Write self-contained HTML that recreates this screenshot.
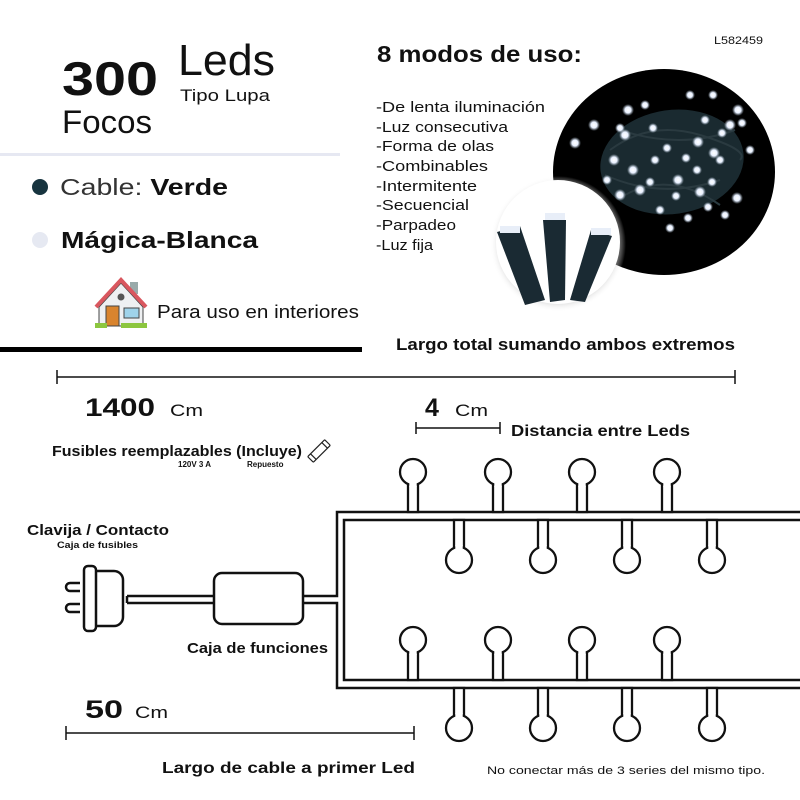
<!DOCTYPE html>
<html><head><meta charset="utf-8"><style>
html,body{margin:0;padding:0;background:#fff}
svg{display:block}
text{font-family:"Liberation Sans",sans-serif;fill:#111}
</style></head><body>
<svg width="800" height="800" viewBox="0 0 800 800" xmlns="http://www.w3.org/2000/svg">
<defs>
<radialGradient id="led"><stop offset="0" stop-color="#fff"/><stop offset="0.5" stop-color="#e8f0ff"/><stop offset="1" stop-color="#9ab" stop-opacity="0"/></radialGradient>
<radialGradient id="sh"><stop offset="0.8" stop-color="#bbb"/><stop offset="1" stop-color="#fff" stop-opacity="0"/></radialGradient>
</defs>
<!-- top left -->
<text x="62" y="95" font-size="47" font-weight="bold" textLength="96" lengthAdjust="spacingAndGlyphs">300</text>
<text x="178" y="75" font-size="44" textLength="97" lengthAdjust="spacingAndGlyphs">Leds</text>
<text x="180" y="101" font-size="17" textLength="90" lengthAdjust="spacingAndGlyphs">Tipo Lupa</text>
<text x="62" y="133" font-size="32" textLength="90" lengthAdjust="spacingAndGlyphs">Focos</text>
<rect x="0" y="153" width="340" height="3" fill="#e6e8f2"/>
<circle cx="40" cy="187" r="8" fill="#17343f"/>
<text x="60" y="195" font-size="23" textLength="168" lengthAdjust="spacingAndGlyphs"><tspan fill="#333">Cable: </tspan><tspan font-weight="bold">Verde</tspan></text>
<circle cx="40" cy="240" r="8" fill="#e6e9f2"/>
<text x="61" y="248" font-size="23" font-weight="bold" textLength="197" lengthAdjust="spacingAndGlyphs">Mágica-Blanca</text>
<!-- house -->
<g>
<rect x="130" y="282" width="8" height="12" fill="#9aa"/>
<polygon points="99,307 121,283 143,307 143,326 99,326" fill="#eef0f2" stroke="#444" stroke-width="1"/>
<polyline points="96,307 121,280 146,307" fill="none" stroke="#d9575f" stroke-width="4"/>
<circle cx="121" cy="297" r="3.5" fill="#555"/>
<rect x="106" y="306" width="13" height="20" fill="#d9842e" stroke="#444" stroke-width="1"/>
<rect x="124" y="308" width="15" height="10" fill="#9fd3ea" stroke="#444" stroke-width="1"/>
<rect x="95" y="323" width="12" height="5" fill="#8cc63f"/>
<rect x="121" y="323" width="26" height="5" fill="#8cc63f"/>
</g>
<text x="157" y="318" font-size="18" fill="#222" textLength="202" lengthAdjust="spacingAndGlyphs">Para uso en interiores</text>
<rect x="0" y="347" width="362" height="5" fill="#000"/>
<!-- top right -->
<text x="714" y="44" font-size="11" textLength="49" lengthAdjust="spacingAndGlyphs">L582459</text>
<text x="377" y="62" font-size="23" font-weight="bold" textLength="205" lengthAdjust="spacingAndGlyphs">8 modos de uso:</text>
<g font-size="15" fill="#222">
<text x="376" y="112" textLength="169" lengthAdjust="spacingAndGlyphs">-De lenta iluminación</text>
<text x="376" y="132" textLength="132" lengthAdjust="spacingAndGlyphs">-Luz consecutiva</text>
<text x="376" y="151" textLength="118" lengthAdjust="spacingAndGlyphs">-Forma de olas</text>
<text x="376" y="171" textLength="112" lengthAdjust="spacingAndGlyphs">-Combinables</text>
<text x="376" y="191" textLength="101" lengthAdjust="spacingAndGlyphs">-Intermitente</text>
<text x="376" y="210" textLength="93" lengthAdjust="spacingAndGlyphs">-Secuencial</text>
<text x="376" y="230" textLength="80" lengthAdjust="spacingAndGlyphs">-Parpadeo</text>
<text x="376" y="250" textLength="57" lengthAdjust="spacingAndGlyphs">-Luz fija</text>
</g>
<ellipse cx="664" cy="172" rx="111" ry="103" fill="#000"/>
<ellipse cx="672" cy="162" rx="72" ry="52" fill="#1a2a30" transform="rotate(-8 672 162)"/>
<g stroke="#2a3a40" stroke-width="2" fill="none">
<path d="M610 150 Q650 120 700 135 T740 160"/><path d="M605 175 Q660 200 720 180"/><path d="M620 130 Q680 150 735 130"/><path d="M625 195 Q670 170 720 205"/>
</g>
<g fill="url(#led)">
<circle cx="628" cy="110" r="6"/><circle cx="645" cy="105" r="5"/><circle cx="690" cy="95" r="5"/><circle cx="713" cy="95" r="5"/><circle cx="738" cy="110" r="6"/>
<circle cx="594" cy="125" r="6"/><circle cx="620" cy="128" r="5"/><circle cx="653" cy="128" r="5"/><circle cx="705" cy="120" r="5"/><circle cx="730" cy="125" r="6"/>
<circle cx="575" cy="143" r="6"/><circle cx="625" cy="135" r="6"/><circle cx="667" cy="148" r="5"/><circle cx="698" cy="142" r="6"/><circle cx="722" cy="133" r="5"/><circle cx="742" cy="123" r="5"/>
<circle cx="614" cy="160" r="6"/><circle cx="655" cy="160" r="5"/><circle cx="686" cy="158" r="5"/><circle cx="714" cy="153" r="6"/><circle cx="720" cy="160" r="5"/>
<circle cx="607" cy="180" r="5"/><circle cx="633" cy="170" r="6"/><circle cx="650" cy="182" r="5"/><circle cx="678" cy="180" r="6"/><circle cx="697" cy="170" r="5"/><circle cx="712" cy="182" r="5"/>
<circle cx="620" cy="195" r="6"/><circle cx="640" cy="190" r="6"/><circle cx="676" cy="196" r="5"/><circle cx="700" cy="192" r="6"/><circle cx="737" cy="198" r="6"/>
<circle cx="660" cy="210" r="5"/><circle cx="688" cy="218" r="5"/><circle cx="708" cy="207" r="5"/><circle cx="725" cy="215" r="5"/><circle cx="670" cy="228" r="5"/>
<circle cx="585" cy="205" r="5"/><circle cx="606" cy="220" r="5"/><circle cx="750" cy="150" r="5"/>
</g>
<circle cx="558" cy="244" r="68" fill="url(#sh)"/>
<circle cx="558" cy="242" r="62" fill="#fff"/>
<g fill="#1a2a33">
<polygon points="497,232 520,226 545,300 525,305"/>
<polygon points="543,220 566,220 565,300 550,302"/>
<polygon points="591,230 612,236 585,302 570,300"/>
</g>
<g fill="#e8eef8"><rect x="500" y="226" width="20" height="7"/><rect x="545" y="213" width="20" height="7"/><rect x="591" y="228" width="20" height="7"/></g>
<text x="396" y="350" font-size="17" font-weight="bold" textLength="339" lengthAdjust="spacingAndGlyphs">Largo total sumando ambos extremos</text>
<!-- dimension lines -->
<g stroke="#111" stroke-width="1.5">
<line x1="57" y1="377" x2="735" y2="377"/><line x1="57" y1="370" x2="57" y2="384"/><line x1="735" y1="370" x2="735" y2="384"/>
<line x1="416" y1="428" x2="500" y2="428"/><line x1="416" y1="422" x2="416" y2="434"/><line x1="500" y1="422" x2="500" y2="434"/>
<line x1="66" y1="733" x2="414" y2="733"/><line x1="66" y1="726" x2="66" y2="740"/><line x1="414" y1="726" x2="414" y2="740"/>
</g>
<text x="85" y="416" font-size="25" font-weight="bold" textLength="70" lengthAdjust="spacingAndGlyphs">1400</text>
<text x="170" y="416" font-size="17" textLength="33" lengthAdjust="spacingAndGlyphs">Cm</text>
<text x="425" y="416" font-size="25" font-weight="bold">4</text>
<text x="455" y="416" font-size="17" textLength="33" lengthAdjust="spacingAndGlyphs">Cm</text>
<text x="511" y="436" font-size="16" font-weight="bold" textLength="179" lengthAdjust="spacingAndGlyphs">Distancia entre Leds</text>
<text x="52" y="456" font-size="15" font-weight="bold" textLength="250" lengthAdjust="spacingAndGlyphs">Fusibles reemplazables (Incluye)</text>
<text x="178" y="467" font-size="8" font-weight="bold">120V 3 A</text>
<text x="247" y="467" font-size="8" font-weight="bold">Repuesto</text>
<g transform="rotate(-45 319 451)" fill="none" stroke="#222" stroke-width="1.2"><rect x="307" y="447" width="24" height="8" rx="1"/><line x1="311" y1="447" x2="311" y2="455"/><line x1="327" y1="447" x2="327" y2="455"/></g>
<text x="27" y="535" font-size="15" font-weight="bold" textLength="142" lengthAdjust="spacingAndGlyphs">Clavija / Contacto</text>
<text x="57" y="548" font-size="9" font-weight="bold" textLength="81" lengthAdjust="spacingAndGlyphs">Caja de fusibles</text>
<text x="187" y="653" font-size="15" font-weight="bold" textLength="141" lengthAdjust="spacingAndGlyphs">Caja de funciones</text>
<text x="85" y="718" font-size="25" font-weight="bold" textLength="38" lengthAdjust="spacingAndGlyphs">50</text>
<text x="135" y="718" font-size="17" textLength="33" lengthAdjust="spacingAndGlyphs">Cm</text>
<text x="162" y="773" font-size="16" font-weight="bold" textLength="253" lengthAdjust="spacingAndGlyphs">Largo de cable a primer Led</text>
<text x="487" y="774" font-size="11" textLength="278" lengthAdjust="spacingAndGlyphs">No conectar más de 3 series del mismo tipo.</text>
<!-- plug -->
<g fill="none" stroke="#111" stroke-width="2.5">
<path d="M80 583 h-10 a4 4 0 0 0 0 8 h10"/>
<path d="M80 604 h-10 a4 4 0 0 0 0 8 h10"/>
<rect x="84" y="566" width="12" height="65" rx="4"/>
<path d="M96 571 h18 a9 9 0 0 1 9 9 v37 a9 9 0 0 1 -9 9 h-18"/>
<path d="M127 596 H214 M127 603 H214 M127 596 V603"/>
<rect x="214" y="573" width="89" height="51" rx="8"/>
<path d="M303 596 H337 V512 H800"/>
<path d="M303 603 H337 V688 H800"/>
<path d="M800 520 H344 V680 H800"/>
</g>
<!-- bulbs -->
<g fill="#fff" stroke="#111" stroke-width="2.3">
<!-- top row -->
<g id="up"><rect x="408" y="480" width="10" height="32"/><circle cx="413" cy="472" r="13"/><rect x="409.3" y="481" width="7.4" height="6" stroke="none"/></g>
<use href="#up" x="85"/><use href="#up" x="169"/><use href="#up" x="254"/>
<use href="#up" y="168"/><use href="#up" x="85" y="168"/><use href="#up" x="169" y="168"/><use href="#up" x="254" y="168"/>
<g id="dn"><rect x="454" y="520" width="10" height="32"/><circle cx="459" cy="560" r="13"/><rect x="455.3" y="545" width="7.4" height="6" stroke="none"/></g>
<use href="#dn" x="84"/><use href="#dn" x="168"/><use href="#dn" x="253"/>
<use href="#dn" y="168"/><use href="#dn" x="84" y="168"/><use href="#dn" x="168" y="168"/><use href="#dn" x="253" y="168"/>
</g>
</svg>
</body></html>
